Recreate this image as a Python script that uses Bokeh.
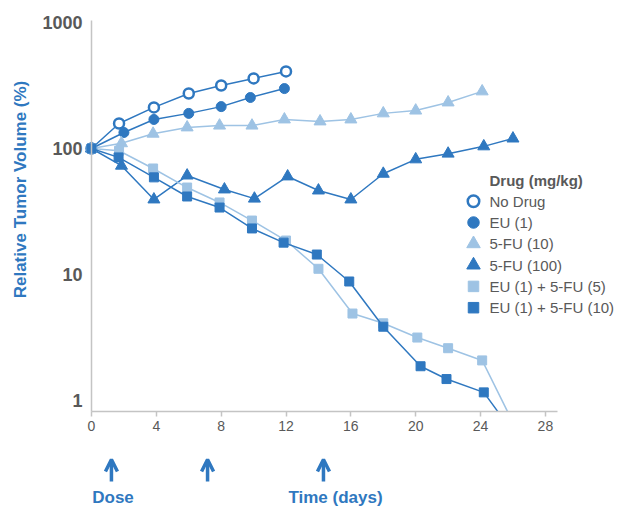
import math
from bokeh.plotting import figure
from bokeh.models import (Range1d, FixedTicker, NumeralTickFormatter, Label,
                          Arrow, OpenHead, BoxAnnotation, LinearAxis, LogAxis)
from bokeh.core.properties import value
from bokeh.embed import file_html
from bokeh.resources import INLINE

# ---- data (days, relative tumor volume %) ----
days_nodrug = [0, 1.7, 3.85, 6.0, 8.0, 10.0, 12.0]
vol_nodrug = [100, 158, 212, 273, 316, 360, 409]

days_eu1 = [0, 2.0, 3.85, 6.0, 8.0, 9.8, 11.9]
vol_eu1 = [100, 134, 170, 190, 215, 254, 299]

days_fu10 = [0, 1.85, 3.8, 5.9, 7.9, 9.9, 11.9, 14.1, 16.0, 18.0, 20.0, 22.0, 24.1]
vol_fu10 = [100, 110, 131, 147, 152, 152, 170, 164, 170, 190, 200, 232, 284]

days_fu100 = [0, 1.85, 3.85, 5.9, 8.2, 10.05, 12.1, 14.0, 16.0, 18.0, 20.0, 22.0, 24.2, 26.0]
vol_fu100 = [100, 73, 39.4, 61, 47.3, 40, 60, 46.4, 39.4, 63, 82, 91, 104, 120]

days_eufu5 = [0, 1.7, 3.8, 5.9, 7.9, 9.9, 12.0, 14.0, 16.1, 18.0, 20.1, 22.0, 24.1, 26.0]
vol_eufu5 = [100, 96, 69.4, 49, 37.3, 26.8, 18.6, 11.1, 4.9, 4.1, 3.16, 2.6, 2.08, 0.67]

days_eufu10 = [0, 1.67, 3.85, 5.9, 7.9, 9.9, 11.85, 13.9, 15.9, 18.0, 20.3, 21.9, 24.2, 26.0]
vol_eufu10 = [100, 85, 59, 41.6, 34, 23.2, 17.9, 14.4, 8.8, 3.85, 1.87, 1.48, 1.16, 0.56]

x_ticks = [0, 4, 8, 12, 16, 20, 24, 28]
y_ticks = [1, 10, 100, 1000]
dose_days = [1.23, 7.16, 14.31]

series_labels = ["No Drug", "EU (1)", "5-FU (10)", "5-FU (100)",
                 "EU (1) + 5-FU (5)", "EU (1) + 5-FU (10)"]

# ---- style / layout ----
DARK = "#2f78c0"
LIGHT = "#9ec3e4"
GRAY = "#595959"
AXIS = "#c4c4c4"
FONT = "Liberation Sans"

W, H = 619, 506
X0_PX, PX_PER_DAY = 91.0, 16.21          # day 0 position, scale
Y100_PX, PX_PER_DEC = 148.0, 126.0       # 100% position, px per decade


def day_at(px):
    return (px - X0_PX) / PX_PER_DAY


def val_at(py):
    return 10 ** (2 + (Y100_PX - py) / PX_PER_DEC)


AX_BOTTOM = val_at(411)
AX_TOP = val_at(20)

p = figure(frame_width=W, frame_height=H, min_border=0,
           x_range=Range1d(day_at(0), day_at(W)), y_range=Range1d(val_at(H), val_at(0)),
           y_axis_type="log", x_axis_location=None, y_axis_location=None,
           output_backend="svg", toolbar_location=None)
p.outline_line_color = None
p.xgrid.visible = False
p.ygrid.visible = False
p.background_fill_color = "white"
p.border_fill_color = "white"

# x axis (placed at the bottom of the value range)
xa = LinearAxis(fixed_location=AX_BOTTOM, bounds=(0, day_at(557)))
xa.ticker = FixedTicker(ticks=x_ticks)
xa.axis_line_color = AXIS
xa.axis_line_width = 1.5
xa.major_tick_line_color = AXIS
xa.major_tick_line_width = 1.5
xa.major_tick_out = 5
xa.major_tick_in = 0
xa.minor_tick_line_color = None
xa.major_label_text_font = FONT
xa.major_label_text_font_size = "14px"
xa.major_label_text_color = GRAY
xa.major_label_standoff = 4
p.add_layout(xa, "below")

# y axis (placed at day 0)
ya = LogAxis(fixed_location=0, bounds=(AX_BOTTOM, AX_TOP))
ya.ticker = FixedTicker(ticks=y_ticks)
ya.formatter = NumeralTickFormatter(format="0")
ya.axis_line_color = AXIS
ya.axis_line_width = 1.5
ya.major_tick_line_color = None
ya.major_tick_out = 0
ya.major_tick_in = 0
ya.minor_tick_line_color = None
ya.major_label_text_font = FONT
ya.major_label_text_font_style = "bold"
ya.major_label_text_font_size = "18px"
ya.major_label_text_color = GRAY
ya.major_label_standoff = 9
p.add_layout(ya, "left")

specs = [
    (days_nodrug, vol_nodrug, DARK, "circle", 10, "white", 2.5),
    (days_eu1, vol_eu1, DARK, "circle", 10, DARK, 1),
    (days_fu10, vol_fu10, LIGHT, "triangle", 12, LIGHT, 1),
    (days_fu100, vol_fu100, DARK, "triangle", 12, DARK, 1),
    (days_eufu5, vol_eufu5, LIGHT, "square", 9, LIGHT, 1),
    (days_eufu10, vol_eufu10, DARK, "square", 9, DARK, 1),
]

for xs, ys, col, mk, sz, fill, lw in specs:
    p.line(xs, ys, line_color=col, line_width=1.5)
    p.scatter(xs, ys, marker=mk, size=sz, fill_color=fill, line_color=col, line_width=lw)

# white mask below the x axis (series are cut at the axis, as in the original)
mask = BoxAnnotation(top=AX_BOTTOM, fill_color="white", fill_alpha=1.0,
                     line_alpha=0, level="glyph")
p.renderers.append(mask)

# ---- legend (drawn by hand so that it matches the original spacing) ----
leg_x_marker = day_at(473)
leg_x_text = day_at(489)
leg_rows_px = [200.7 + i * 21.3 for i in range(len(series_labels))]
for (xs, ys, col, mk, sz, fill, lw), lab, ry in zip(specs, series_labels, leg_rows_px):
    p.scatter([leg_x_marker], [val_at(ry)], marker=mk, size=sz + 1.5, fill_color=fill,
              line_color=col, line_width=lw)
    p.text([leg_x_text], [val_at(ry)], text=[lab], text_font=value(FONT),
           text_font_size="15px", text_color=GRAY, text_baseline="middle", text_align="left")

p.text([leg_x_text], [val_at(180)], text=["Drug (mg/kg)"], text_font=value(FONT),
       text_font_size="15px", text_font_style="bold", text_color=GRAY,
       text_baseline="middle", text_align="left")

# ---- axis titles and dose arrows ----
p.add_layout(Label(x=day_at(20), y=val_at(189), text="Relative Tumor Volume (%)",
                   angle=math.pi / 2, text_font=FONT, text_font_size="17px",
                   text_font_style="bold", text_color=DARK, text_align="center",
                   text_baseline="middle"))

for d in dose_days:
    p.add_layout(Arrow(x_start=d, y_start=val_at(481), x_end=d, y_end=val_at(459),
                       line_color=DARK, line_width=3.5,
                       end=OpenHead(size=12, line_width=3.5, line_color=DARK)))

p.add_layout(Label(x=day_at(112.5), y=val_at(497), text="Dose", text_font=FONT,
                   text_font_size="17px", text_font_style="bold", text_color=DARK,
                   text_align="center", text_baseline="middle"))
p.add_layout(Label(x=day_at(335), y=val_at(497), text="Time (days)", text_font=FONT,
                   text_font_size="17px", text_font_style="bold", text_color=DARK,
                   text_align="center", text_baseline="middle"))

open("out.html", "w").write(file_html(p, INLINE))
